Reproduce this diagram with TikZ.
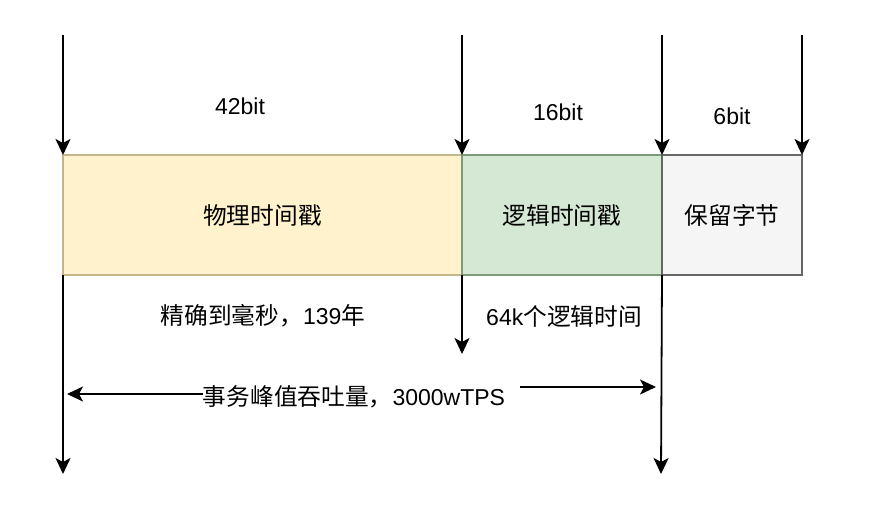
\documentclass[tikz,border=0pt]{standalone}
\usepackage{fontspec}
\setmainfont{Liberation Sans}
\newfontfamily\cjk[Scale=1.03]{Noto Sans CJK SC}
\usetikzlibrary{arrows.meta}
\definecolor{yfill}{HTML}{FFF2CC}
\definecolor{yline}{HTML}{C2B68A}
\definecolor{gfill}{HTML}{D5E8D4}
\definecolor{gline}{HTML}{7D9A7A}
\definecolor{sfill}{HTML}{F5F5F5}
\definecolor{sline}{HTML}{666666}
\begin{document}
\begin{tikzpicture}[x=1pt,y=-1pt,
  font=\fontsize{23}{27}\selectfont,
  arr/.style={line width=1.8pt, -{Stealth[length=16pt,width=15pt,inset=4pt]}},
  field/.style={draw, line width=1.6pt, minimum height=120pt, inner sep=0pt, outer sep=0pt, anchor=north west},
  lbl/.style={inner sep=0pt}]
\useasboundingbox[fill=white] (0,0) rectangle (896,508);
% fields
\node[field, fill=yfill, draw=yline, minimum width=399pt] (phys) at (63,155) {{\cjk 物理时间戳}};
\node[field, fill=gfill, draw=gline, minimum width=200pt] (logic) at (462,155) {{\cjk 逻辑时间戳}};
\node[field, fill=sfill, draw=sline, minimum width=140pt] (resv) at (662,155) {{\cjk 保留字节}};
% top arrows
\coordinate (t1) at (63,35);
\coordinate (t2) at (462,35);
\coordinate (t3) at (662,35);
\coordinate (t4) at (802,35);
\draw[arr] (t1) -- (phys.north west);
\draw[arr] (t2) -- (logic.north west);
\draw[arr] (t3) -- (resv.north west);
\draw[arr] (t4) -- (resv.north east);
% bit labels
\node[lbl] (b42) at (240,106) {42bit};
\node[lbl] (b16) at (558,112) {16bit};
\node[lbl] (b6) at (732,116) {6bit};
% bottom arrows
\coordinate (d1) at (63,474);
\coordinate (d2) at (462,354);
\coordinate (d3) at (661,474);
\draw[arr] (phys.south west) -- (d1);
\draw[arr] (logic.south west) -- (d2);
\draw[arr] (logic.south east) -- (d3);
% lower labels
\node[lbl] (ms) at (263,316) {{\cjk 精确到毫秒，}139{\cjk 年}};
\node[lbl] (lt) at (564,316) {64k{\cjk 个逻辑时间}};
\node[lbl] (tps) at (354,397) {{\cjk 事务峰值吞吐量，}3000wTPS};
\coordinate (la) at (67,394);
\coordinate (ra) at (656,387);
\draw[arr] ([yshift=3pt]tps.west) -- (la);
\draw[arr] ([xshift=15pt,yshift=10pt]tps.east) -- (ra);
\end{tikzpicture}
\end{document}
